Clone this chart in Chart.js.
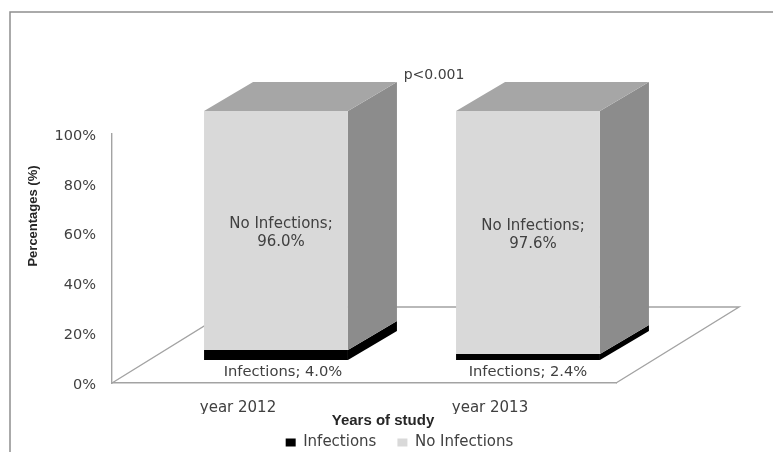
<!DOCTYPE html>
<html>
<head>
<meta charset="utf-8">
<style>
  html, body { margin: 0; padding: 0; background: #fff; }
  #wrap { width: 773px; height: 452px; overflow: hidden; }
</style>
<script src="https://cdn.jsdelivr.net/npm/chart.js@4"></script>
</head>
<body>
<div id="wrap"><canvas id="infectionChart" width="773" height="452"></canvas></div>
<script>
const categories = ["year 2012", "year 2013"];
const infections = [4.0, 2.4];
const noInfections = [96.0, 97.6];
const percentTicks = [0, 20, 40, 60, 80, 100];

const TEXT = "#404040";
const LINE = "#a3a3a3";
const FONT = "'DejaVu Sans', sans-serif";

// pseudo 3D: bars sit part way back on the floor, and have this much depth
const barShift = { x: 38, y: -23 };
const barDepth = { x: 49, y: -29 };
const floorDepth = { x: 123, y: -76 };

function fillPoly(ctx, color, pts) {
  ctx.fillStyle = color;
  ctx.beginPath();
  pts.forEach((p, i) => i ? ctx.lineTo(p[0], p[1]) : ctx.moveTo(p[0], p[1]));
  ctx.closePath();
  ctx.fill();
}

const sideColors = ["#000000", "#8c8c8c"];

const box3d = {
  id: "box3d",
  beforeDraw(chart) {
    // outer frame runs off the right and bottom of the page
    const ctx = chart.ctx;
    ctx.save();
    ctx.strokeStyle = "#8e8e8e";
    ctx.lineWidth = 1.5;
    ctx.strokeRect(10, 12, 900, 600);
    ctx.restore();
  },
  beforeDatasetsDraw(chart) {
    const { ctx, chartArea: a } = chart;
    // floor outline
    ctx.save();
    ctx.strokeStyle = LINE;
    ctx.lineWidth = 1.4;
    ctx.beginPath();
    ctx.moveTo(a.left, a.bottom);
    ctx.lineTo(a.left + floorDepth.x, a.bottom + floorDepth.y);
    ctx.lineTo(a.right + floorDepth.x, a.bottom + floorDepth.y);
    ctx.lineTo(a.right, a.bottom);
    ctx.stroke();
    ctx.restore();

    ctx.save();
    ctx.translate(barShift.x, barShift.y);
    chart.data.datasets.forEach((ds, i) => {
      chart.getDatasetMeta(i).data.forEach(bar => {
        const right = bar.x + bar.width / 2;
        const left = bar.x - bar.width / 2;
        fillPoly(ctx, sideColors[i], [
          [right, bar.y], [right + barDepth.x, bar.y + barDepth.y],
          [right + barDepth.x, bar.base + barDepth.y], [right, bar.base]
        ]);
        if (i === chart.data.datasets.length - 1) {
          fillPoly(ctx, "#a6a6a6", [
            [left, bar.y], [left + barDepth.x, bar.y + barDepth.y],
            [right + barDepth.x, bar.y + barDepth.y], [right, bar.y]
          ]);
        }
      });
    });
  },
  afterDatasetsDraw(chart) {
    const ctx = chart.ctx;
    ctx.restore();

    ctx.save();
    ctx.fillStyle = TEXT;
    ctx.textAlign = "center";
    ctx.textBaseline = "middle";
    ctx.font = "14.7px " + FONT;

    // labels of the lower segment sit just under the box
    const lowerNudge = [7, 0];
    chart.getDatasetMeta(0).data.forEach((bar, j) => {
      const txt = "Infections; " + infections[j].toFixed(1) + "%";
      ctx.fillText(txt, bar.x + barShift.x + lowerNudge[j], bar.base + barShift.y + 12);
    });
    ctx.font = "15px " + FONT;
    chart.getDatasetMeta(1).data.forEach((bar, j) => {
      const mid = (bar.y + bar.base) / 2 + barShift.y + 2.5;
      ctx.fillText("No Infections;", bar.x + barShift.x + 5, mid - 9);
      ctx.fillText(noInfections[j].toFixed(1) + "%", bar.x + barShift.x + 5, mid + 9);
    });

    ctx.font = "14px " + FONT;
    ctx.fillText("p<0.001", 434, 75);

    // axis titles sit off the middle of their axes
    ctx.fillStyle = "#262626";
    ctx.font = "bold 15px 'Liberation Sans', sans-serif";
    ctx.fillText("Years of study", 383, 421);
    ctx.translate(33, 216);
    ctx.rotate(-Math.PI / 2);
    ctx.font = "bold 13px 'Liberation Sans', sans-serif";
    ctx.fillText("Percentages (%)", 0, 0);
    ctx.restore();
  }
};

new Chart(document.getElementById("infectionChart"), {
  type: "bar",
  data: {
    labels: categories,
    datasets: [
      { label: "Infections", data: infections, backgroundColor: "#000000", clip: false },
      { label: "No Infections", data: noInfections, backgroundColor: "#d9d9d9", clip: false }
    ]
  },
  plugins: [box3d],
  options: {
    responsive: false,
    animation: false,
    layout: { padding: { left: 26, top: 134, right: 0, bottom: -8 } },
    datasets: { bar: { categoryPercentage: 1, barPercentage: 0.571 } },
    plugins: {
      tooltip: { enabled: false },
      legend: {
        position: "bottom",
        labels: { boxWidth: 10, boxHeight: 8, padding: 21, color: TEXT, font: { family: FONT, size: 15 } }
      }
    },
    scales: {
      x: {
        stacked: true,
        grid: { display: false },
        border: { color: LINE, width: 1.4 },
        ticks: { color: TEXT, padding: 8, font: { family: FONT, size: 15 } },
        afterFit: s => { s.height = 31; }
      },
      y: {
        stacked: true,
        min: 0,
        max: 100,
        grid: { display: false },
        border: { color: LINE, width: 1.4 },
        afterBuildTicks: s => { s.ticks = percentTicks.map(v => ({ value: v })); },
        ticks: { color: TEXT, padding: 8, labelOffset: 2, font: { family: FONT, size: 14.5 }, callback: v => v + "%" },
        afterFit: s => { s.width = 86; }
      },
      // empty axis that keeps room for the floor's depth on the right
      gutter: {
        position: "right",
        grid: { display: false },
        border: { display: false },
        ticks: { display: false },
        afterFit: s => { s.width = 157; }
      }
    }
  }
});
</script>
</body>
</html>
